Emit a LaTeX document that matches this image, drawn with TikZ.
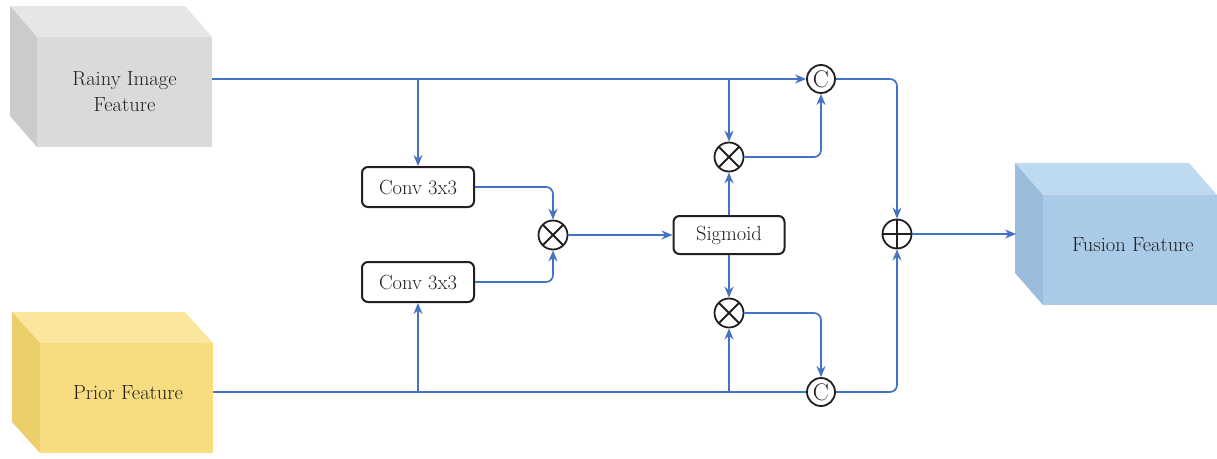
\documentclass[tikz,border=0pt]{standalone}
\usepackage{fontspec}
\usetikzlibrary{arrows.meta,calc}
\definecolor{ln}{HTML}{4472C4}
\definecolor{ink}{HTML}{231F20}
\definecolor{rainyF}{HTML}{D9DADC}
\definecolor{rainyT}{HTML}{E5E6E8}
\definecolor{rainyS}{HTML}{CACBCD}
\definecolor{priorF}{HTML}{F8DD80}
\definecolor{priorT}{HTML}{FAE69C}
\definecolor{priorS}{HTML}{ECCE6A}
\definecolor{fusF}{HTML}{AACBE7}
\definecolor{fusT}{HTML}{BDDAF1}
\definecolor{fusS}{HTML}{9BBCDB}
\begin{document}
\begin{tikzpicture}[x=1pt,y=-1pt,
  every node/.style={text=ink},
  flow/.style={draw=ln, line width=1.7pt, -{Stealth[length=11pt,width=9pt]}, rounded corners=7pt},
  plainflow/.style={draw=ln, line width=1.7pt, rounded corners=7pt},
  box/.style={draw=ink, line width=2pt, rounded corners=6pt, minimum width=112pt, minimum height=40pt, inner sep=0pt, fill=white, font=\fontsize{20.5}{24}\selectfont},
  op/.style={circle, draw=ink, line width=1.8pt, minimum size=29pt, inner sep=0pt, fill=white},
  mulop/.style={op, path picture={\draw[ink, line width=1.8pt] (path picture bounding box.north west) -- (path picture bounding box.south east) (path picture bounding box.north east) -- (path picture bounding box.south west);}},
  addop/.style={op, path picture={\draw[ink, line width=1.8pt] (path picture bounding box.north) -- (path picture bounding box.south) (path picture bounding box.east) -- (path picture bounding box.west);}},
  catop/.style={op, minimum size=28pt, font=\fontsize{24}{24}\selectfont},
  face/.style={draw=none, inner sep=0pt, align=center, font=\fontsize{20.5}{26}\selectfont}
]
\useasboundingbox (0,0) rectangle (1217,458);

% Rainy cube
\fill[rainyT] (10,6) -- (185,6) -- (212,37) -- (37,37) -- cycle;
\fill[rainyS] (10,6) -- (37,37) -- (37,147) -- (10,116) -- cycle;
\node[face, fill=rainyF, minimum width=175pt, minimum height=110pt] (rainy) at (124.5,92) {Rainy Image\\Feature};

% Prior cube
\fill[priorT] (12,312) -- (185,312) -- (213,343) -- (40,343) -- cycle;
\fill[priorS] (12,312) -- (40,343) -- (40,453) -- (12,422) -- cycle;
\node[face, fill=priorF, minimum width=173pt, minimum height=110pt] (prior) at (126.5,398) {};
\node[face] (priortext) at (128,393) {Prior Feature};

% Fusion cube
\fill[fusT] (1015,163) -- (1189,163) -- (1217,195) -- (1043,195) -- cycle;
\fill[fusS] (1015,163) -- (1043,195) -- (1043,305) -- (1015,273) -- cycle;
\node[face, fill=fusF, minimum width=174pt, minimum height=110pt] (fusion) at (1130,250) {};
\node[face] (fusiontext) at (1133,245) {Fusion Feature};

% operators and boxes
\node[box] (conv1) at (418,187) {Conv 3x3};
\node[box] (conv2) at (418,282) {Conv 3x3};
\node[mulop] (m1) at (553,235) {};
\node[box, minimum width=111pt, minimum height=38pt] (sig) at (729,235) {Sigmoid};
\node[mulop] (mu) at (729,157) {};
\node[mulop] (ml) at (729,313) {};
\node[catop] (c1) at (821,79) {C};
\node[catop] (c2) at (821,392) {C};
\node[addop] (plus) at (897,234) {};

% coordinates on the feature lines
\coordinate (rout) at (212,79);
\coordinate (pout) at (213,392);
\coordinate (b1) at (418,79);
\coordinate (b2) at (729,79);
\coordinate (b3) at (418,392);
\coordinate (b4) at (729,392);
\coordinate (fin) at (1016,234);

% connectors
\draw[flow] (rout) -- (c1.west);
\draw[flow] (b1) -- (conv1.north);
\draw[flow] (b2) -- (mu.north);
\draw[flow] (mu.east) -| (c1.south);
\draw[flow] (c1.east) -| (plus.north);
\draw[flow] (conv1.east) -| (m1.north);
\draw[flow] (conv2.east) -| (m1.south);
\draw[flow] (m1.east) -- (sig.west);
\draw[flow] (sig.north) -- (mu.south);
\draw[flow] (sig.south) -- (ml.north);
\draw[flow] (ml.east) -| (c2.north);
\draw[plainflow] (pout) -- (c2.west);
\draw[flow] (b3) -- (conv2.south);
\draw[flow] (b4) -- (ml.south);
\draw[flow] (c2.east) -| (plus.south);
\draw[flow] (plus.east) -- (fin);
\end{tikzpicture}
\end{document}
